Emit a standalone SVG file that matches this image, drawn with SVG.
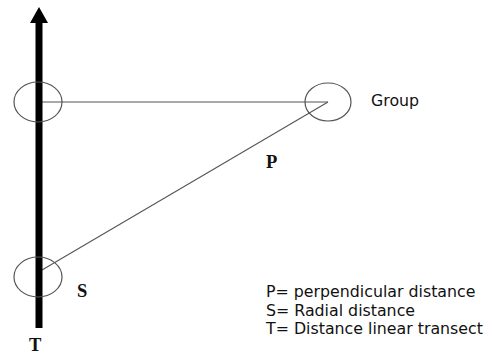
<svg xmlns="http://www.w3.org/2000/svg" width="488" height="354" viewBox="0 0 488 354">
<style>
.ring{fill:none;stroke:#555;stroke-width:1.2}
.ln{stroke:#555;stroke-width:1.1;fill:none}
.lbl{font-family:"Liberation Serif","Times New Roman",serif;font-weight:bold;font-size:18.5px;fill:#111}
.txt{font-family:"DejaVu Sans",Verdana,sans-serif;font-size:15.8px;fill:#111}
</style>
<rect width="488" height="354" fill="#fff"/>
<g id="connectors">
<line class="ln" x1="40" y1="102" x2="328" y2="102"/>
<line class="ln" x1="328" y1="102" x2="42" y2="270"/>
</g>
<g id="transect">
<rect x="35.5" y="22" width="7" height="306" fill="#000"/>
<polygon points="39,7 30,23 48,23" fill="#000"/>
</g>
<g id="node-top"><ellipse class="ring" cx="38" cy="102" rx="24" ry="20"/></g>
<g id="node-group"><ellipse class="ring" cx="328" cy="102" rx="23" ry="19"/></g>
<g id="node-bottom"><ellipse class="ring" cx="38" cy="277" rx="24" ry="20"/></g>
<text class="txt" x="371" y="106">Group</text>
<text class="lbl" x="266" y="168">P</text>
<text class="lbl" x="77" y="297">S</text>
<text class="lbl" x="29" y="351">T</text>
<g id="legend">
<text class="txt" x="266" y="297">P= perpendicular distance</text>
<text class="txt" x="266" y="316">S= Radial distance</text>
<text class="txt" x="266" y="334">T= Distance linear transect</text>
</g>
</svg>
